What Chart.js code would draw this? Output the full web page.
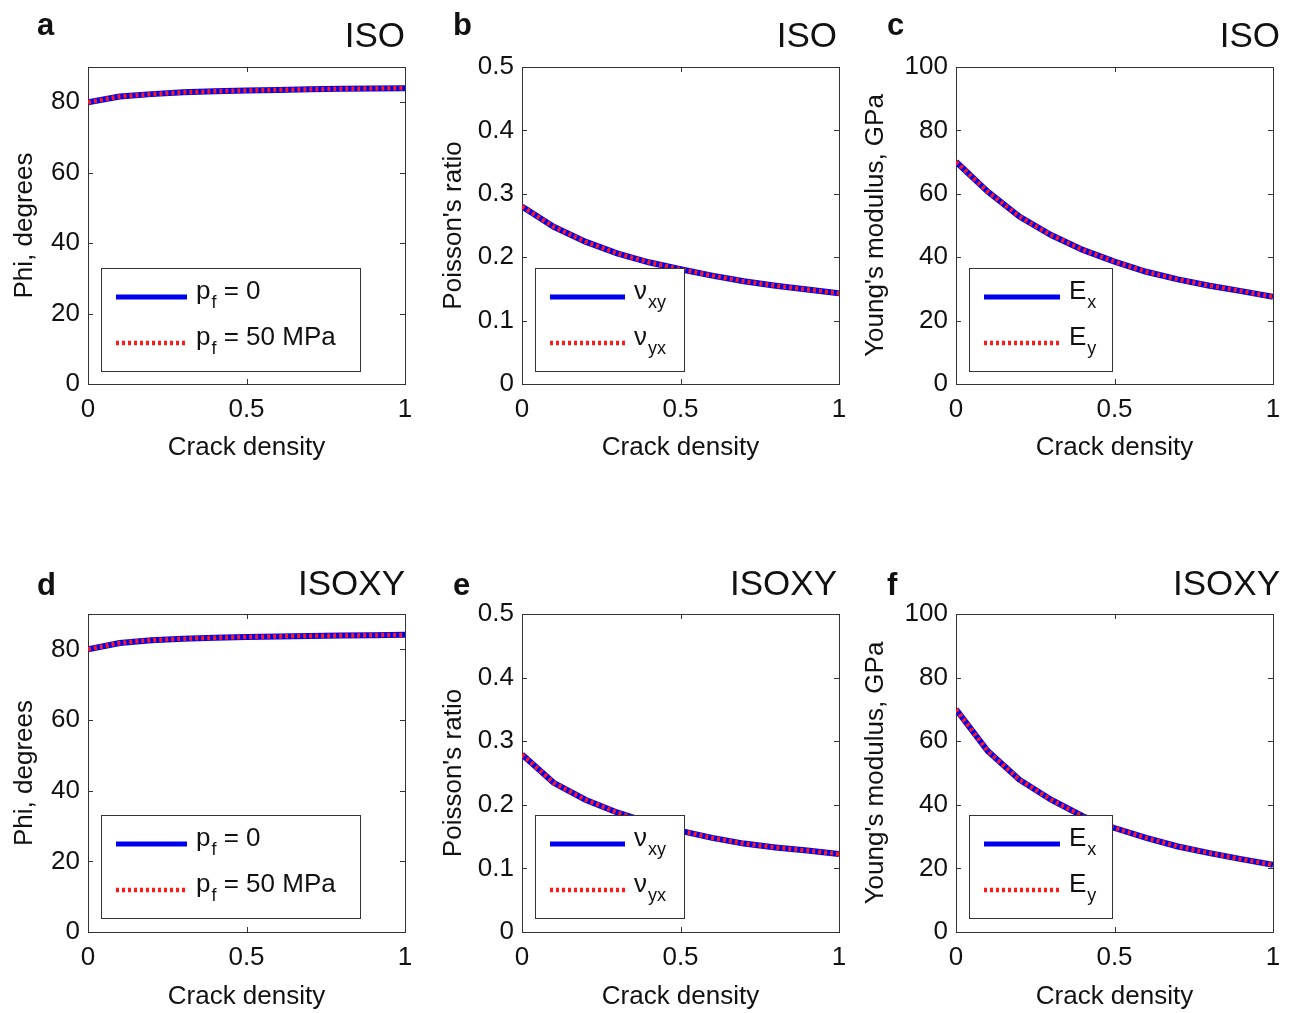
<!DOCTYPE html>
<html>
<head>
<meta charset="utf-8">
<title>Crack density panels</title>
<script src="https://cdn.jsdelivr.net/npm/chart.js@4.4.0/dist/chart.umd.min.js"></script>
<style>
  html, body { margin: 0; padding: 0; background: #fff; }
  #wrap { position: relative; width: 1294px; height: 1013px; }
  #wrap canvas { position: absolute; left: 0; top: 0; }
</style>
</head>
<body>
<div id="wrap"></div>
<script>
const crackDensity = [0, 0.1, 0.2, 0.3, 0.4, 0.5, 0.6, 0.7, 0.8, 0.9, 1];
const xTicks = [0, 0.5, 1];

// ISO (top row) - both curves of a panel lie on top of each other
const phiIso = [80.0, 81.6, 82.3, 82.8, 83.1, 83.3, 83.5, 83.65, 83.8, 83.9, 84.0];
const nuIso = [0.280, 0.248, 0.2245, 0.206, 0.192, 0.181, 0.171, 0.162, 0.155, 0.149, 0.143];
const youngIso = [70.1, 60.7, 52.8, 47.0, 42.3, 38.6, 35.4, 33.0, 31.0, 29.3, 27.5];

// ISOXY (bottom row)
const phiIsoxy = [80.0, 81.8, 82.6, 83.0, 83.3, 83.5, 83.65, 83.8, 83.9, 84.0, 84.1];
const nuIsoxy = [0.279, 0.2345, 0.208, 0.188, 0.172, 0.159, 0.148, 0.139, 0.133, 0.128, 0.1226];
const youngIsoxy = [70.0, 56.9, 47.9, 41.6, 36.4, 32.7, 29.6, 26.9, 24.8, 22.9, 21.1];

const phiTicks = [0, 20, 40, 60, 80];
const nuTicks = [0, 0.1, 0.2, 0.3, 0.4, 0.5];
const youngTicks = [0, 20, 40, 60, 80, 100];

// legend entries: [main, subscript, rest]
const phiLegend = [["p", "f", " = 0"], ["p", "f", " = 50 MPa"]];
const nuLegend = [["\u03bd", "xy", ""], ["\u03bd", "yx", ""]];
const youngLegend = [["E", "x", ""], ["E", "y", ""]];

const FONT = "'Liberation Sans', Arial, Helvetica, sans-serif";
const W = 1294, H = 1013;
const LH = 26 * 1.2;

const cols = [
  { left: 88, right: 405, yTitle: 25, letterX: 37, titleRight: 405 },
  { left: 522, right: 839, yTitle: 454, letterX: 453, titleRight: 837 },
  { left: 956, right: 1273, yTitle: 876, letterX: 887, titleRight: 1280 }
];
const rows = [
  { top: 67, bottom: 384, xTitle: 447.7, letterY: 35, titleY: 47 },
  { top: 614, bottom: 932, xTitle: 997, letterY: 595, titleY: 595 }
];

const panels = [
  { letter: "a", title: "ISO", row: 0, col: 0, yLabel: "Phi, degrees", values: phiIso, yMax: 90, yTicks: phiTicks, legend: phiLegend, legendW: 259, textX: 95 },
  { letter: "b", title: "ISO", row: 0, col: 1, yLabel: "Poisson's ratio", values: nuIso, yMax: 0.5, yTicks: nuTicks, legend: nuLegend, legendW: 149, textX: 99 },
  { letter: "c", title: "ISO", row: 0, col: 2, yLabel: "Young's modulus, GPa", values: youngIso, yMax: 100, yTicks: youngTicks, legend: youngLegend, legendW: 143, textX: 100 },
  { letter: "d", title: "ISOXY", row: 1, col: 0, yLabel: "Phi, degrees", values: phiIsoxy, yMax: 90, yTicks: phiTicks, legend: phiLegend, legendW: 259, textX: 95 },
  { letter: "e", title: "ISOXY", row: 1, col: 1, yLabel: "Poisson's ratio", values: nuIsoxy, yMax: 0.5, yTicks: nuTicks, legend: nuLegend, legendW: 149, textX: 99 },
  { letter: "f", title: "ISOXY", row: 1, col: 2, yLabel: "Young's modulus, GPa", values: youngIsoxy, yMax: 100, yTicks: youngTicks, legend: youngLegend, legendW: 143, textX: 100 }
];

// matlab style box with inward ticks on all four sides
const frameTicks = {
  id: "frameTicks",
  beforeDatasetsDraw(chart) {
    const { ctx, chartArea: a, scales: { x, y } } = chart;
    ctx.save();
    ctx.strokeStyle = "#333";
    ctx.lineWidth = 1;
    ctx.strokeRect(a.left + 0.5, a.top + 0.5, a.width, a.height);
    ctx.beginPath();
    x.ticks.forEach(t => {
      const px = Math.round(x.getPixelForValue(t.value)) + 0.5;
      ctx.moveTo(px, a.bottom); ctx.lineTo(px, a.bottom - 5);
      ctx.moveTo(px, a.top); ctx.lineTo(px, a.top + 5);
    });
    y.ticks.forEach(t => {
      const py = Math.round(y.getPixelForValue(t.value)) + 0.5;
      ctx.moveTo(a.left, py); ctx.lineTo(a.left + 5, py);
      ctx.moveTo(a.right, py); ctx.lineTo(a.right - 5, py);
    });
    ctx.stroke();
    ctx.restore();
  }
};

const subLegend = {
  id: "subLegend",
  afterDatasetsDraw(chart, args, opts) {
    const { ctx, chartArea: a } = chart;
    const bx = a.left + opts.left, by = a.top + opts.top;
    ctx.save();
    ctx.fillStyle = "#fff";
    ctx.fillRect(bx, by, opts.width, opts.height);
    ctx.strokeStyle = "#333";
    ctx.lineWidth = 1;
    ctx.strokeRect(bx + 0.5, by + 0.5, opts.width, opts.height);
    chart.data.datasets.forEach((ds, i) => {
      const ly = by + 29 + i * 46;
      ctx.beginPath();
      ctx.strokeStyle = ds.borderColor;
      ctx.lineWidth = Math.min(ds.borderWidth, 5);
      ctx.setLineDash(ds.borderDash || []);
      ctx.moveTo(bx + 15, ly);
      ctx.lineTo(bx + opts.textX - 9, ly);
      ctx.stroke();
      ctx.setLineDash([]);

      const [main, sub, rest] = opts.items[i];
      const base = ly + 2;
      let tx = bx + opts.textX;
      ctx.fillStyle = "#111";
      ctx.textAlign = "left";
      ctx.textBaseline = "alphabetic";
      ctx.font = "26px " + FONT;
      ctx.fillText(main, tx, base);
      tx += ctx.measureText(main).width + 1;
      ctx.font = "18px " + FONT;
      ctx.fillText(sub, tx, base + 9);
      tx += ctx.measureText(sub).width;
      ctx.font = "26px " + FONT;
      ctx.fillText(rest, tx, base);
    });
    ctx.restore();
  }
};

const panelText = {
  id: "panelText",
  afterDraw(chart, args, opts) {
    const { ctx } = chart;
    ctx.save();
    ctx.fillStyle = "#111";
    ctx.textBaseline = "alphabetic";
    ctx.font = "bold 31px " + FONT;
    ctx.textAlign = "left";
    ctx.fillText(opts.letter, opts.letterX, opts.letterY);
    ctx.font = "35px " + FONT;
    ctx.textAlign = "right";
    ctx.fillText(opts.title, opts.titleRight, opts.titleY);
    ctx.restore();
  }
};

const wrap = document.getElementById("wrap");

panels.forEach(p => {
  const col = cols[p.col], row = rows[p.row];
  const padLeft = col.yTitle - LH / 2;
  const padBottom = H - (row.xTitle + LH / 2);
  const yWidth = col.left - padLeft;
  const xHeight = (H - padBottom) - row.bottom;

  const canvas = document.createElement("canvas");
  canvas.width = W;
  canvas.height = H;
  wrap.appendChild(canvas);

  const points = crackDensity.map((c, i) => ({ x: c, y: p.values[i] }));

  new Chart(canvas, {
    type: "line",
    data: {
      datasets: [
        { label: p.legend[0].join(""), data: points, borderColor: "#0000f0", borderWidth: 6, pointRadius: 0, tension: 0, order: 2 },
        { label: p.legend[1].join(""), data: points, borderColor: "#ff1a1a", borderWidth: 4.5, borderDash: [3, 3], pointRadius: 0, tension: 0, order: 1 }
      ]
    },
    options: {
      responsive: false,
      animation: false,
      events: [],
      layout: {
        padding: { left: padLeft, top: row.top, right: W - col.right, bottom: padBottom }
      },
      scales: {
        x: {
          type: "linear",
          min: 0,
          max: 1,
          afterBuildTicks: s => { s.ticks = xTicks.map(v => ({ value: v })); },
          afterFit: s => { s.height = xHeight; },
          grid: { display: false, drawTicks: false },
          border: { display: false },
          ticks: { color: "#111", font: { family: FONT, size: 26 }, padding: 10, maxRotation: 0, autoSkip: false, callback: v => String(v) },
          title: { display: true, text: "Crack density", color: "#111", font: { family: FONT, size: 26 }, padding: 0 }
        },
        y: {
          type: "linear",
          min: 0,
          max: p.yMax,
          afterBuildTicks: s => { s.ticks = p.yTicks.map(v => ({ value: v })); },
          afterFit: s => { s.width = yWidth; },
          grid: { display: false, drawTicks: false },
          border: { display: false },
          ticks: { color: "#111", font: { family: FONT, size: 26 }, padding: 8, autoSkip: false, callback: v => String(v) },
          title: { display: true, text: p.yLabel, color: "#111", font: { family: FONT, size: 26 }, padding: 0 }
        }
      },
      plugins: {
        legend: { display: false },
        tooltip: { enabled: false },
        subLegend: { items: p.legend, left: 13, top: 201, width: p.legendW, height: 103, textX: p.textX },
        panelText: { letter: p.letter, letterX: col.letterX, letterY: row.letterY, title: p.title, titleRight: col.titleRight, titleY: row.titleY }
      }
    },
    plugins: [frameTicks, subLegend, panelText]
  });
});
</script>
</body>
</html>
